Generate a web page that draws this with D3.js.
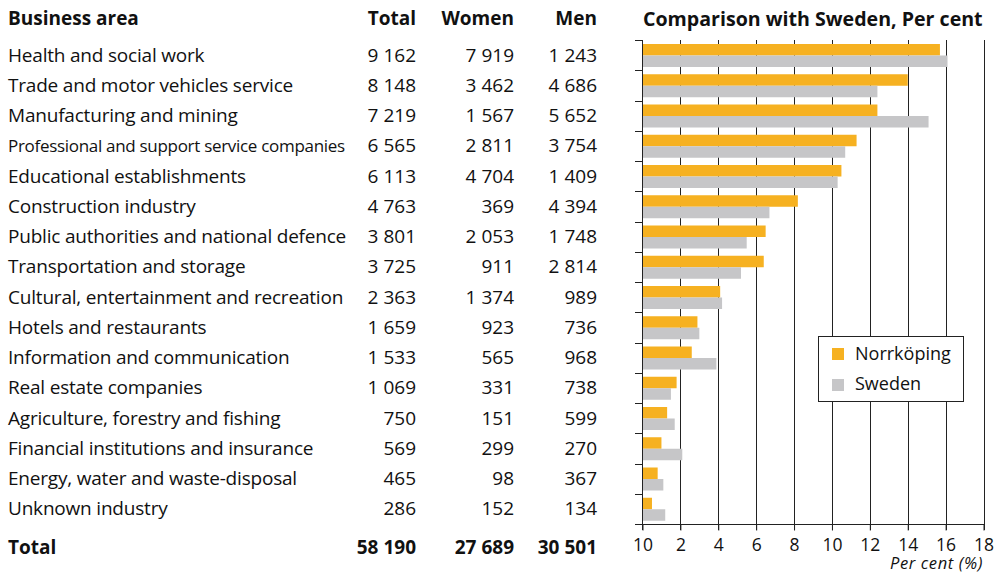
<!DOCTYPE html>
<html>
<head>
<meta charset="utf-8">
<script src="https://cdn.jsdelivr.net/npm/d3@7"></script>
<style>
  body { margin: 0; background: #fff; }
  text { font-family: "Open Sans", "Noto Sans", sans-serif; fill: #111; }
</style>
</head>
<body>
<div class="chart"></div>
<script>
// Data
const areas = [
  "Health and social work",
  "Trade and motor vehicles service",
  "Manufacturing and mining",
  "Professional and support service companies",
  "Educational establishments",
  "Construction industry",
  "Public authorities and national defence",
  "Transportation and storage",
  "Cultural, entertainment and recreation",
  "Hotels and restaurants",
  "Information and communication",
  "Real estate companies",
  "Agriculture, forestry and fishing",
  "Financial institutions and insurance",
  "Energy, water and waste-disposal",
  "Unknown industry"
];
const totals = ["9 162", "8 148", "7 219", "6 565", "6 113", "4 763", "3 801", "3 725", "2 363", "1 659", "1 533", "1 069", "750", "569", "465", "286"];
const women = ["7 919", "3 462", "1 567", "2 811", "4 704", "369", "2 053", "911", "1 374", "923", "565", "331", "151", "299", "98", "152"];
const men = ["1 243", "4 686", "5 652", "3 754", "1 409", "4 394", "1 748", "2 814", "989", "736", "968", "738", "599", "270", "367", "134"];
const totalRow = ["58 190", "27 689", "30 501"];
const norrkoping = [15.7, 14.0, 12.4, 11.3, 10.5, 8.2, 6.5, 6.4, 4.1, 2.9, 2.6, 1.8, 1.3, 1.0, 0.8, 0.5];
const sweden = [16.1, 12.4, 15.1, 10.7, 10.3, 6.7, 5.5, 5.2, 4.2, 3.0, 3.9, 1.5, 1.7, 2.1, 1.1, 1.2];
const xTicks = [0, 2, 4, 6, 8, 10, 12, 14, 16, 18];
const xTickLabels = ["10", "2", "4", "6", "8", "10", "12", "14", "16", "18"];
const seriesNames = ["Norrköping", "Sweden"];
const colors = ["#f6b121", "#c6c6c8"];

const width = 995, height = 573;
const svg = d3.select(".chart").append("svg")
  .attr("width", width).attr("height", height);

const x = d3.scaleLinear().domain([0, 18]).range([642.5, 983.5]);
const y = d3.scaleBand().domain(areas).range([40, 524]);
const yInner = d3.scaleBand().domain(seriesNames).range([4, 27]);

// Table headers
const fs = 19;
svg.append("text").attr("x", 8).attr("y", 25).attr("font-size", fs)
  .attr("font-weight", "bold").text("Business area");
const colX = [416, 514, 597];
["Total", "Women", "Men"].forEach((h, i) => {
  svg.append("text").attr("x", colX[i]).attr("y", 25).attr("font-size", fs)
    .attr("font-weight", "bold").attr("text-anchor", "end").text(h);
});

// Table rows
areas.forEach((a, i) => {
  const cy = y(a) + y.bandwidth() / 2 + 6.5;
  svg.append("text").attr("x", 8).attr("y", cy)
    .attr("font-size", i === 3 ? 17 : fs)
    .attr("letter-spacing", i === 3 ? -0.3 : -0.2).text(a);
  [totals[i], women[i], men[i]].forEach((v, j) => {
    svg.append("text").attr("x", colX[j]).attr("y", cy).attr("font-size", fs)
      .attr("text-anchor", "end").text(v);
  });
});

svg.append("text").attr("x", 8).attr("y", 554).attr("font-size", fs)
  .attr("font-weight", "bold").text("Total");
totalRow.forEach((v, j) => {
  svg.append("text").attr("x", colX[j]).attr("y", 554).attr("font-size", fs)
    .attr("font-weight", "bold").attr("text-anchor", "end").text(v);
});

// Chart title
svg.append("text").attr("x", 643).attr("y", 26).attr("font-size", 19.6)
  .attr("font-weight", "bold").text("Comparison with Sweden, Per cent");

// Gridlines
svg.append("g").selectAll("line").data(xTicks.slice(1)).join("line")
  .attr("x1", d => Math.round(x(d)) + 0.5).attr("x2", d => Math.round(x(d)) + 0.5)
  .attr("y1", 40).attr("y2", 530)
  .attr("stroke", "#222").attr("stroke-width", 1);

// Bars
const rows = svg.append("g").selectAll("g").data(areas).join("g")
  .attr("transform", d => `translate(0,${y(d)})`);
rows.selectAll("rect")
  .data((d, i) => [norrkoping[i], sweden[i]].map((v, k) => ({ key: seriesNames[k], v: v, k: k })))
  .join("rect")
  .attr("x", x(0))
  .attr("y", d => yInner(d.key))
  .attr("width", d => x(d.v) - x(0))
  .attr("height", yInner.bandwidth())
  .attr("fill", d => colors[d.k]);

// Y axis (category boundaries)
const yAxis = svg.append("g").attr("stroke", "#222");
yAxis.append("line").attr("x1", 642.5).attr("x2", 642.5).attr("y1", 40).attr("y2", 530);
yAxis.selectAll("line.tk").data(areas).join("line").attr("class", "tk")
  .attr("x1", 635).attr("x2", 642.5)
  .attr("y1", d => Math.round(y(d)) + 0.5).attr("y2", d => Math.round(y(d)) + 0.5);

// X axis
const xAxis = svg.append("g").attr("transform", "translate(0,524.5)")
  .call(d3.axisBottom(x).tickValues(xTicks).tickSize(6).tickPadding(10)
    .tickFormat((d, i) => xTickLabels[i]));
xAxis.select(".domain").remove();
xAxis.append("line").attr("x1", 635).attr("x2", 984).attr("stroke", "#222");
xAxis.selectAll(".tick line").attr("stroke", "#222");
xAxis.selectAll(".tick text").attr("font-size", 17.5).attr("fill", "#111")
  .attr("dy", "0.6em")
  .style("font-family", "'Open Sans', sans-serif");

svg.append("text").attr("x", 983).attr("y", 569).attr("font-size", 16.5)
  .attr("letter-spacing", 0.6)
  .attr("font-style", "italic").attr("text-anchor", "end").text("Per cent (%)");

// Legend
const legend = svg.append("g");
legend.append("rect").attr("x", 818.5).attr("y", 336.5).attr("width", 145).attr("height", 65)
  .attr("fill", "#fff").attr("stroke", "#222");
seriesNames.forEach((s, i) => {
  legend.append("rect").attr("x", 832).attr("y", 348 + i * 31).attr("width", 12).attr("height", 12)
    .attr("fill", colors[i]);
  legend.append("text").attr("x", 855).attr("y", 360 + i * 30).attr("font-size", 18).text(s);
});
</script>
</body>
</html>
